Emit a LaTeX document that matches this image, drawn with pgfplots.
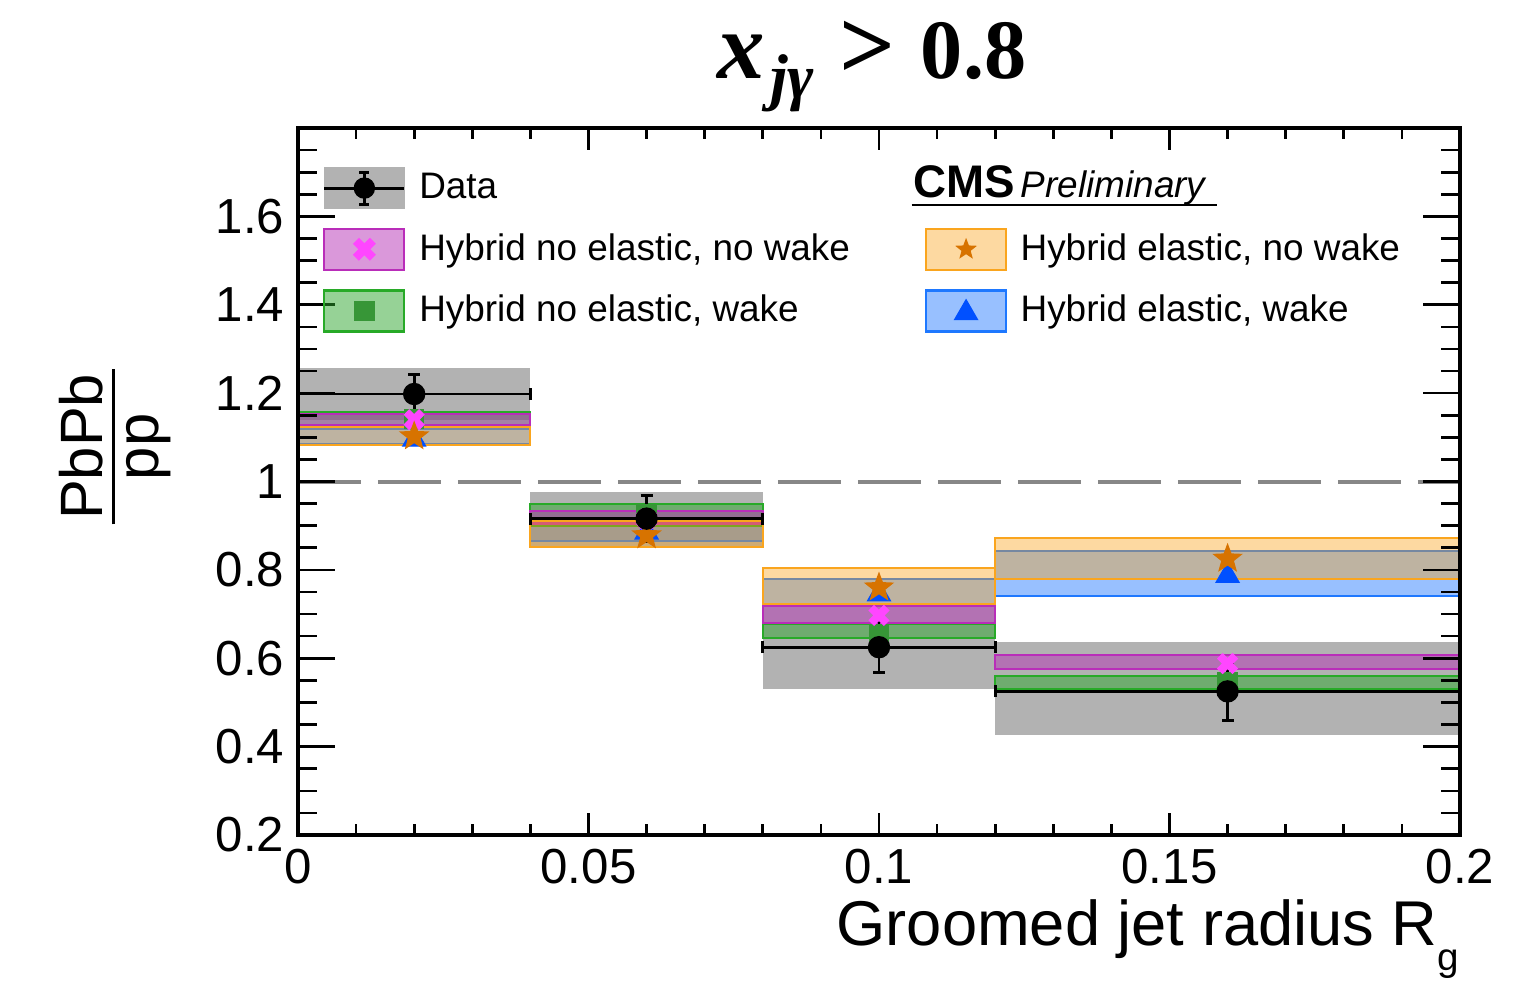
\documentclass[border=0pt]{standalone}
\usepackage{fontspec}
\setmainfont{Liberation Sans}
\newfontfamily\titlefont{Liberation Serif}
\usepackage{amsmath}
\usepackage{graphicx}
\usepackage{pgfplots}
\pgfplotsset{compat=1.18}
\usetikzlibrary{plotmarks}

% colours: band fill, band edge, marker
\definecolor{cP}{RGB}{181,50,181}
\definecolor{cPe}{RGB}{185,45,185}
\definecolor{cPm}{RGB}{255,70,255}
\definecolor{cG}{RGB}{45,165,45}
\definecolor{cGe}{RGB}{40,170,40}
\definecolor{cGm}{RGB}{55,150,55}
\definecolor{cO}{RGB}{250,160,20}
\definecolor{cOe}{RGB}{250,165,30}
\definecolor{cOm}{RGB}{215,115,0}
\definecolor{cB}{RGB}{50,130,255}
\definecolor{cBe}{RGB}{30,120,255}
\definecolor{cBm}{RGB}{0,80,255}

% filled five-pointed star
\makeatletter
\pgfdeclareplotmark{fstar}{%
  \pgfpathmoveto{\pgfqpointpolar{90}{\pgfplotmarksize}}%
  \pgfpathlineto{\pgfqpointpolar{126}{0.42\pgfplotmarksize}}%
  \pgfpathlineto{\pgfqpointpolar{162}{\pgfplotmarksize}}%
  \pgfpathlineto{\pgfqpointpolar{198}{0.42\pgfplotmarksize}}%
  \pgfpathlineto{\pgfqpointpolar{234}{\pgfplotmarksize}}%
  \pgfpathlineto{\pgfqpointpolar{270}{0.42\pgfplotmarksize}}%
  \pgfpathlineto{\pgfqpointpolar{306}{\pgfplotmarksize}}%
  \pgfpathlineto{\pgfqpointpolar{342}{0.42\pgfplotmarksize}}%
  \pgfpathlineto{\pgfqpointpolar{18}{\pgfplotmarksize}}%
  \pgfpathlineto{\pgfqpointpolar{54}{0.42\pgfplotmarksize}}%
  \pgfpathclose
  \pgfusepathqfillstroke}
\makeatother

\tikzset{
  bandD/.style={fill=black, fill opacity=0.3, draw=none},
  bandP/.style={fill=cP, fill opacity=0.5, draw=cPe, line width=0.6pt},
  bandG/.style={fill=cG, fill opacity=0.5, draw=cGe, line width=0.6pt},
  bandO/.style={fill=cO, fill opacity=0.4, draw=cOe, line width=0.6pt},
  bandB/.style={fill=cB, fill opacity=0.5, draw=cBe, line width=0.6pt},
}

% one systematic band: x0, x1, ylow, yhigh, style
\newcommand\band[5]{\addplot[forget plot,#5] coordinates {(#1,#3) (#2,#3) (#2,#4) (#1,#4)} --cycle;}

% stacked ratio label with a bar of fixed gaps
\newcommand\ratiolabel{\vbox{\halign{\hfil##\hfil\cr
  \kern0.45mm PbPb\kern0.45mm\cr
  \noalign{\kern0.9mm\hrule height 0.9pt\kern1.1mm}
  pp\cr}}}

\begin{document}
\begin{tikzpicture}
\begin{axis}[
  at={(0,0)}, anchor=south west, scale only axis,
  width=116.2mm, height=70.7mm,
  xmin=0, xmax=0.2, ymin=0.2, ymax=1.8,
  xtick=\empty,
  ytick={0.2,0.4,0.6,0.8,1,1.2,1.4,1.6},
  yticklabels={0.2,0.4,0.6,0.8,1,1.2,1.4,1.6},
  minor ytick={0.25,0.3,0.35,0.45,0.5,0.55,0.65,0.7,0.75,0.85,0.9,0.95,1.05,1.1,1.15,1.25,1.3,1.35,1.45,1.5,1.55,1.65,1.7,1.75},
  major tick length=3.7mm, minor tick length=1.9mm,
  tick align=inside,
  axis on top,
  axis line style={line width=1.1pt},
  tick style={line width=0.75pt, black},
  /pgf/number format/assume math mode=true,
  yticklabel style={font=\fontsize{14}{16}\selectfont, anchor=east, inner sep=0pt, xshift=-1.3mm},
  title={{\fontsize{27}{30}\selectfont\itshape x}\kern0.06em\raisebox{-0.24em}{\fontsize{18}{18}\selectfont\itshape jγ}\hspace{0.3em}{\fontsize{28}{30}\selectfont >}\hspace{0.3em}0.8},
  title style={at={(axis description cs:0.494,1.040)}, anchor=base, inner sep=0pt,
    font=\titlefont\fontsize{24}{28}\selectfont\bfseries},
  ylabel={\ratiolabel},
  ylabel style={at={(axis description cs:-0.1575,0.549)}, anchor=center, inner sep=0pt,
    font=\fontsize{17}{20}\selectfont},
  legend columns=2,
  legend cell align=left,
  legend style={at={(axis description cs:0.0215,0.945)}, anchor=north west,
    draw=none, fill=none, inner sep=0pt, outer sep=0pt, row sep=1.85mm,
    font=\fontsize{10.5}{12}\selectfont,
    nodes={inner sep=0pt},
    /tikz/every odd column/.append style={column sep=1.35mm},
    /tikz/every even column/.append style={column sep=7.5mm}},
]

% reference line at unity
\addplot[forget plot, color={rgb,255:red,135;green,135;blue,135}, line width=0.4mm,
  dash pattern=on 6.3mm off 1.7mm] coordinates {(0,1) (0.2,1)};

% data systematic uncertainties
\band{0}{0.04}{1.140}{1.257}{bandD}
\band{0.04}{0.08}{0.855}{0.977}{bandD}
\band{0.08}{0.12}{0.530}{0.720}{bandD}
\band{0.12}{0.2}{0.427}{0.636}{bandD}

% Hybrid elastic, wake
\band{0}{0.04}{1.085}{1.120}{bandB}
\band{0.04}{0.08}{0.866}{0.915}{bandB}
\band{0.08}{0.12}{0.723}{0.780}{bandB}
\band{0.12}{0.2}{0.741}{0.843}{bandB}
\addplot[forget plot, only marks, mark=triangle*, mark size=1.3mm, color=cBm]
  coordinates {(0.02,1.095) (0.06,0.885) (0.10,0.745) (0.16,0.787)};

% Hybrid no elastic, wake
\band{0}{0.04}{1.125}{1.157}{bandG}
\band{0.04}{0.08}{0.900}{0.950}{bandG}
\band{0.08}{0.12}{0.645}{0.677}{bandG}
\band{0.12}{0.2}{0.530}{0.559}{bandG}
\addplot[forget plot, only marks, mark=square*, mark size=0.95mm, color=cGm]
  coordinates {(0.02,1.141) (0.06,0.925) (0.10,0.655) (0.16,0.545)};

% Hybrid no elastic, no wake
\band{0}{0.04}{1.127}{1.152}{bandP}
\band{0.04}{0.08}{0.905}{0.934}{bandP}
\band{0.08}{0.12}{0.680}{0.718}{bandP}
\band{0.12}{0.2}{0.575}{0.607}{bandP}
\addplot[forget plot, only marks, mark=x, mark size=1.1mm, color=cPm,
  mark options={line width=0.8mm}]
  coordinates {(0.02,1.140) (0.06,0.915) (0.10,0.697) (0.16,0.588)};

% Hybrid elastic, no wake
\band{0}{0.04}{1.082}{1.123}{bandO}
\band{0.04}{0.08}{0.852}{0.910}{bandO}
\band{0.08}{0.12}{0.723}{0.805}{bandO}
\band{0.12}{0.2}{0.780}{0.873}{bandO}
\addplot[forget plot, only marks, mark=fstar, mark size=1.4mm, color=cOm]
  coordinates {(0.02,1.102) (0.06,0.878) (0.10,0.760) (0.16,0.825)};

% data with statistical uncertainties
\addplot[forget plot, only marks, mark=*, mark size=1.05mm, black,
  error bars/.cd, x dir=both, x explicit, y dir=both, y explicit,
  error bar style={line width=0.8pt, black},
  error mark=-,
  error mark options={rotate=90, black, mark size=0.6mm, line width=0.8pt}]
  table[x=x, y=y, x error=ex, y error=ey] {
x     y      ex    ey
0.02  1.198  0.02  0.045
0.06  0.916  0.02  0.052
0.10  0.625  0.02  0.058
0.16  0.525  0.04  0.065
};

% legend
\addlegendimage{legend image code/.code={
  \fill[black!30] (0mm,-2.05mm) rectangle (8mm,2.05mm);
  \draw[black, line width=0.8pt] (0mm,0mm) -- (8mm,0mm);
  \draw[black, line width=0.8pt] (4mm,-1.6mm) -- (4mm,1.6mm);
  \draw[black, line width=0.8pt] (3.5mm,-1.6mm) -- (4.5mm,-1.6mm) (3.5mm,1.6mm) -- (4.5mm,1.6mm);
  \fill[black] (4mm,0mm) circle (1mm);}}
\addlegendentry{Data}
\addlegendimage{empty legend}
\addlegendentry{}
\addlegendimage{legend image code/.code={
  \draw[bandP] (0mm,-2.05mm) rectangle (8mm,2.05mm);
  \draw[mark=x, mark size=1.2mm, mark options={draw=cPm, line width=0.85mm}] plot coordinates {(4mm,0mm)};}}
\addlegendentry{Hybrid no elastic, no wake}
\addlegendimage{legend image code/.code={
  \draw[bandO] (0mm,-2.05mm) rectangle (8mm,2.05mm);
  \draw[mark=fstar, mark size=0.95mm, mark options={draw=cOm, fill=cOm}] plot coordinates {(4mm,0mm)};}}
\addlegendentry{Hybrid elastic, no wake}
\addlegendimage{legend image code/.code={
  \draw[bandG] (0mm,-2.05mm) rectangle (8mm,2.05mm);
  \draw[mark=square*, mark size=0.95mm, mark options={draw=cGm, fill=cGm}] plot coordinates {(4mm,0mm)};}}
\addlegendentry{Hybrid no elastic, wake}
\addlegendimage{legend image code/.code={
  \draw[bandB] (0mm,-2.05mm) rectangle (8mm,2.05mm);
  \draw[mark=triangle*, mark size=1.3mm, mark options={draw=cBm, fill=cBm}] plot coordinates {(4mm,-0.2mm)};}}
\addlegendentry{Hybrid elastic, wake}

% experiment label
\node[anchor=base west, inner sep=0pt] at (axis description cs:0.529,0.902)
  {\fontsize{13}{15}\selectfont\bfseries CMS\hspace{0.6mm}\fontsize{10.5}{12}\selectfont\mdseries\itshape Preliminary};
\draw[line width=0.6pt] (axis description cs:0.528,0.891) -- (axis description cs:0.791,0.891);
\end{axis}

% horizontal axis: ticks and title
\begin{axis}[
  at={(0,0)}, anchor=south west, scale only axis,
  width=116.2mm, height=70.7mm,
  xmin=0, xmax=0.2, ymin=0.2, ymax=1.8,
  ytick=\empty,
  xtick={0,0.05,0.1,0.15,0.2},
  xticklabels={0,0.05,0.1,0.15,0.2},
  minor xtick={0.01,0.02,0.03,0.04,0.06,0.07,0.08,0.09,0.11,0.12,0.13,0.14,0.16,0.17,0.18,0.19},
  major tick length=2.2mm, minor tick length=1.1mm,
  tick align=inside,
  axis line style={line width=1.1pt},
  tick style={line width=0.75pt, black},
  /pgf/number format/assume math mode=true,
  xticklabel style={font=\fontsize{14}{16}\selectfont, anchor=north, inner sep=0pt, yshift=-1.3mm},
  xlabel={Groomed jet radius R\raisebox{-2.5mm}{\fontsize{11}{12}\selectfont g}},
  xlabel style={at={(axis description cs:1,-0.1556)}, anchor=base east, inner sep=0pt,
    font=\fontsize{18}{20}\selectfont},
]
\end{axis}

\pgfresetboundingbox
\path[use as bounding box] (-29.8mm,-14.5mm) rectangle (122.5mm,83.5mm);
\end{tikzpicture}
\end{document}
